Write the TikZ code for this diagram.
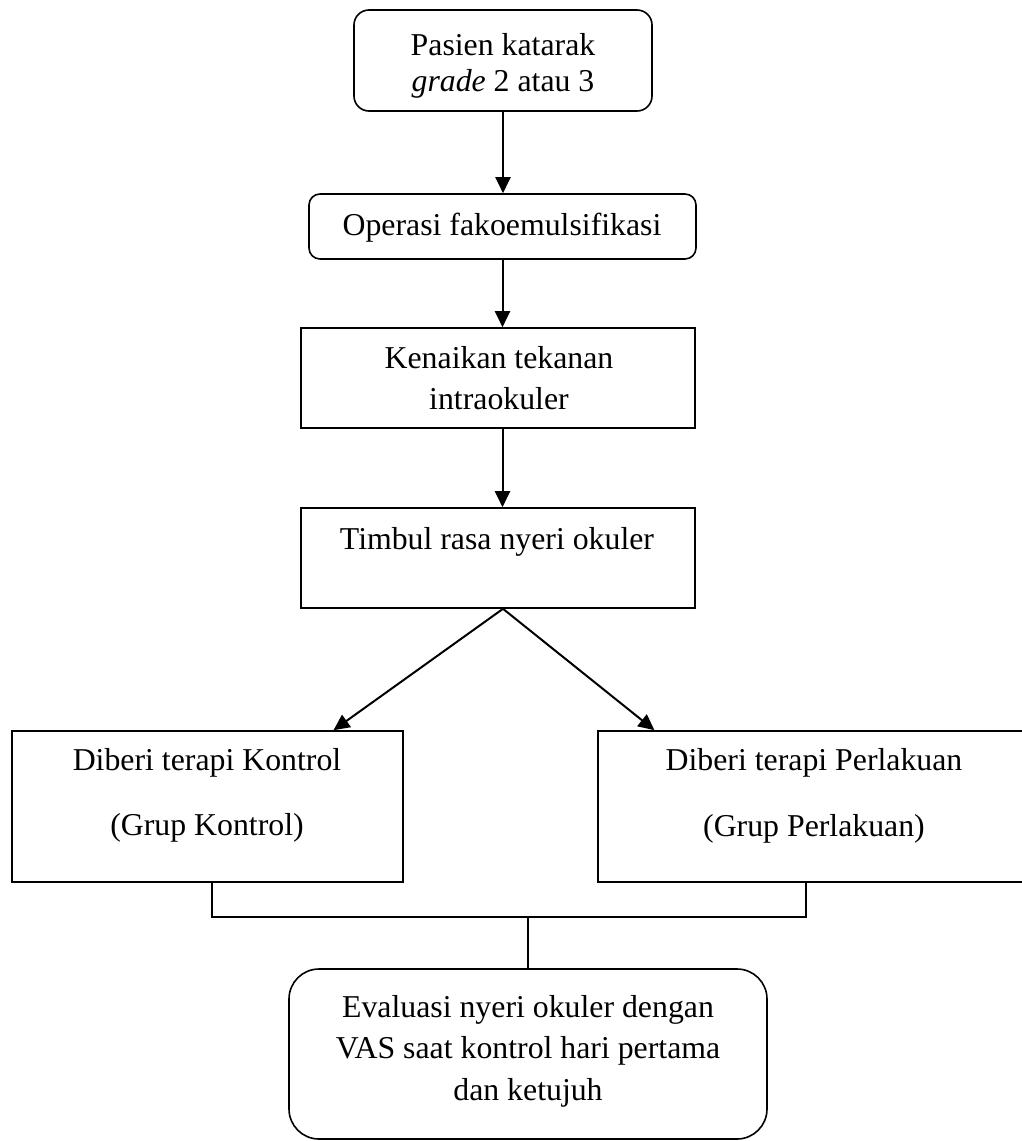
\documentclass[tikz,border=0pt]{standalone}
\usepackage{fontspec}
\setmainfont{Liberation Serif}
\usetikzlibrary{arrows.meta,calc}
\begin{document}
\begin{tikzpicture}[x=1pt,y=-1pt,
  boxsq/.style={draw, line width=1.6pt, inner sep=0pt, rectangle},
  boxrd/.style={draw, line width=1.6pt, inner sep=0pt, rectangle, rounded corners=#1},
  lbl/.style={anchor=base, inner sep=0pt, font=\fontsize{31.8}{40}\selectfont},
  arr/.style={line width=2pt, -{Triangle[length=16pt,width=15pt]}},
  conn/.style={line width=1.6pt}
]
\useasboundingbox (0,0) rectangle (1022,1141);
% boxes
\node[boxrd=15pt, minimum width=298pt, minimum height=101pt] (b1) at (503,60.5) {};
\node[boxrd=11pt, minimum width=387pt, minimum height=65pt] (b2) at (502.5,226.5) {};
\node[boxsq, minimum width=394pt, minimum height=100pt] (b3) at (498,378) {};
\node[boxsq, minimum width=394pt, minimum height=100pt] (b4) at (498,558) {};
\node[boxsq, minimum width=391pt, minimum height=151pt] (b5) at (207.5,806.5) {};
\node[boxsq, minimum width=432pt, minimum height=151pt] (b6) at (814,806.5) {};
\node[boxrd=30pt, minimum width=478pt, minimum height=170pt] (b7) at (528,1054) {};
% texts
\node[lbl] (t1a) at (503,55) {Pasien katarak};
\node[lbl] (t1b) at (503,91) {\textit{grade} 2 atau 3};
\node[lbl] (t2) at (502,235) {Operasi fakoemulsifikasi};
\node[lbl] (t3a) at (499,368) {Kenaikan tekanan};
\node[lbl] (t3b) at (499,409) {intraokuler};
\node[lbl] (t4) at (497,549) {Timbul rasa nyeri okuler};
\node[lbl] (t5a) at (207,770) {Diberi terapi Kontrol};
\node[lbl] (t5b) at (207,835) {(Grup Kontrol)};
\node[lbl] (t6a) at (814,770) {Diberi terapi Perlakuan};
\node[lbl] (t6b) at (814,836) {(Grup Perlakuan)};
\node[lbl] (t7a) at (528,1017) {Evaluasi nyeri okuler dengan};
\node[lbl] (t7b) at (528,1058) {VAS saat kontrol hari pertama};
\node[lbl] (t7c) at (528,1100) {dan ketujuh};
% arrows
\draw[arr] (b1.south) -- (b1.south |- b2.north);
\draw[arr] (b2.south) -- (b2.south |- b3.north);
\draw[arr] (b2.south |- b3.south) -- (b2.south |- b4.north);
\coordinate (split) at ($(b4.south)+(5,0)$);
\draw[arr] (split) -- ($(b5.north west)!0.821!(b5.north east)$);
\draw[arr] (split) -- ($(b6.north west)!0.132!(b6.north east)$);
% joining connector
\coordinate (j) at (528,917);
\draw[conn] ([xshift=4.5pt]b5.south) |- ([xshift=-8pt]b6.south |- j) -- ([xshift=-8pt]b6.south);
\draw[conn] (j) -- (b7.north);
\end{tikzpicture}
\end{document}
